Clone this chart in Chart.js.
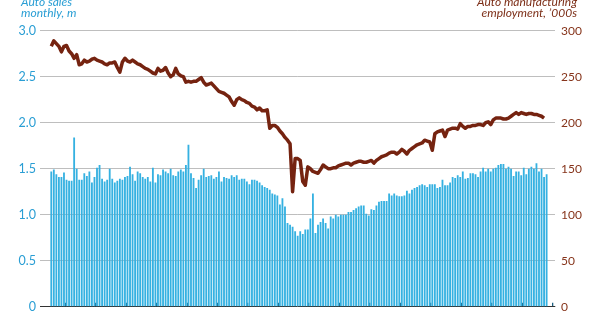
<!DOCTYPE html>
<html><head><meta charset="utf-8">
<script src="https://cdn.jsdelivr.net/npm/chart.js@4.4.1/dist/chart.umd.min.js"></script>
<style>
html,body{margin:0;padding:0;background:#fff;}
#wrap{position:relative;width:600px;height:314px;overflow:hidden;}
canvas{position:absolute;left:0;top:0;}
.t{position:absolute;font-family:Lato,sans-serif;font-style:italic;font-size:12px;line-height:11.5px;white-space:nowrap;}
#tl{left:21px;top:-4.5px;color:#2a9ed4;}
#tr{right:23px;top:-4.5px;color:#7c2e17;text-align:right;}
</style></head><body>
<div id="wrap"><canvas id="c" width="600" height="314"></canvas>
<div class="t" id="tl">Auto sales<br>monthly, m</div>
<div class="t" id="tr">Auto manufacturing<br>employment, ’000s</div>
</div>
<script>
// Monthly series starting January 2001
const startYear = 2001;
const yearTicks = [2001,2002,2003,2004,2005,2006,2007,2008,2009,2010,2011,2012,2013,2014,2015,2016,2017];
const leftTickLabels = ['0','0.5','1.0','1.5','2.0','2.5','3.0'];
const rightTickLabels = ['0','50','100','150','200','250','300'];

// Auto sales, monthly, m (bars, left axis)
const autoSales = [
1.47,1.49,1.44,1.41,1.41,1.46,1.38,1.37,1.37,1.84,
1.50,1.38,1.38,1.45,1.42,1.47,1.35,1.41,1.51,1.54,
1.39,1.36,1.38,1.50,1.39,1.35,1.37,1.39,1.38,1.41,
1.42,1.52,1.44,1.37,1.47,1.45,1.41,1.39,1.41,1.36,
1.51,1.35,1.44,1.43,1.49,1.47,1.45,1.50,1.43,
1.42,1.47,1.49,1.47,1.54,1.76,1.45,1.40,1.29,1.38,
1.43,1.50,1.41,1.42,1.43,1.39,1.41,1.47,1.36,1.41,
1.40,1.39,1.43,1.41,1.43,1.38,1.39,1.39,1.36,1.33,
1.38,1.38,1.37,1.35,1.32,1.30,1.29,1.27,1.23,1.22,
1.21,1.11,1.18,1.09,0.91,0.89,0.87,0.82,0.77,
0.82,0.79,0.84,0.84,0.96,1.23,0.80,0.89,0.92,0.96,
0.91,0.85,0.98,0.96,1.00,0.98,1.00,1.00,1.00,1.03,
1.03,1.05,1.07,1.09,1.10,1.10,1.01,0.99,1.06,1.05,
1.10,1.14,1.15,1.15,1.15,1.23,1.21,1.23,1.21,1.20,
1.20,1.21,1.26,1.23,1.27,1.29,1.30,1.32,1.33,1.32,
1.30,1.33,1.33,1.33,1.29,1.30,1.38,1.32,1.32,1.35,
1.41,1.40,1.43,1.41,1.47,1.39,1.40,1.45,1.45,1.44,
1.41,1.47,1.51,1.47,1.50,1.47,1.50,1.51,1.54,1.55,
1.55,1.50,1.52,1.50,1.42,1.47,1.47,1.43,1.51,1.44,
1.50,1.52,1.50,1.56,1.47,1.50,1.41,1.44
];

// Auto manufacturing employment, '000s (line, right axis)
const autoEmployment = [
283,289,286,283,277,283,284,278,275,270,
274,263,264,268,266,267,269,270,268,267,
266,264,263,265,265,266,260,255,266,270,
267,266,268,266,264,263,261,259,258,256,
254,253,259,256,257,260,254,250,252,259,
253,251,250,244,245,244,245,245,247,249,
244,241,242,243,240,237,234,233,232,230,
228,223,219,225,227,225,224,222,221,218,
217,214,216,213,213,214,194,197,197,195,
191,188,184,181,177,125,161,161,159,136,
132,152,150,147,146,145,149,154,152,150,
150,151,151,153,154,155,156,156,154,156,
157,158,158,157,157,158,159,156,159,161,
163,164,165,167,168,168,166,168,171,169,
166,170,172,174,176,177,178,181,180,179,
170,188,190,191,192,185,192,193,194,194,
193,199,196,194,196,196,197,197,198,198,
197,200,201,198,203,205,205,205,204,204,
205,207,209,211,209,211,210,209,210,210,
209,209,208,207,205
];

const monthNames = ['Jan','Feb','Mar','Apr','May','Jun','Jul','Aug','Sep','Oct','Nov','Dec'];
const monthLabels = autoSales.map((_, i) => monthNames[i % 12] + ' ' + (startYear + Math.floor(i / 12)));

const BLUE = '#2a9ed4';
const BROWN = '#86341b';

new Chart(document.getElementById('c'), {
  type: 'bar',
  data: {
    datasets: [
      {
        type: 'line',
        label: 'Auto manufacturing employment',
        data: autoEmployment.map((v, i) => ({x: i, y: v})),
        yAxisID: 'y1',
        xAxisID: 'x',
        borderColor: '#752310',
        borderWidth: 3.5,
        pointRadius: 0,
        tension: 0,
        borderJoinStyle: 'round',
        order: 0
      },
      {
        type: 'bar',
        label: 'Auto sales',
        data: autoSales.map((v, i) => ({x: i, y: v})),
        yAxisID: 'y',
        xAxisID: 'x',
        backgroundColor: '#35b1e1',
        borderWidth: 0,
        barPercentage: 0.72,
        categoryPercentage: 1,
        order: 1
      }
    ]
  },
  options: {
    responsive: false,
    animation: false,
    devicePixelRatio: 1,
    layout: { padding: { top: 30.7, bottom: 0, left: 0, right: 0 } },
    plugins: { legend: { display: false }, tooltip: { enabled: false } },
    scales: {
      x: {
        type: 'linear',
        position: 'bottom',
        min: -4.44,
        max: 198.3,
        offset: false,
        z: 1,
        afterBuildTicks: (s) => { s.ticks = yearTicks.map((y) => ({ value: (y - startYear) * 12 - 0.5 })); },
        afterFit: (s) => { s.height = 7.3; s.paddingLeft = 0; s.paddingRight = 0; },
        ticks: { display: false },
        grid: { display: true, drawOnChartArea: false, drawTicks: true, tickLength: -4, color: '#1d5f80', lineWidth: 1.3 },
        border: { display: true, color: '#333333', width: 1 }
      },
      y: {
        position: 'left',
        min: 0, max: 3,
        z: 1,
        afterFit: (s) => { s.width = 40; s.paddingTop = 0; s.paddingBottom = 0; },
        afterBuildTicks: (s) => { s.ticks = leftTickLabels.map((_, k) => ({ value: k * 0.5 })); },
        ticks: {
          color: BLUE,
          padding: 4,
          font: { family: 'Lato', size: 12.5 },
          callback: (v, idx) => leftTickLabels[idx]
        },
        grid: {
          drawTicks: false,
          color: (c) => (c.tick && c.tick.value === 0) ? 'rgba(0,0,0,0)' : 'rgba(110,110,110,0.45)',
          lineWidth: 1
        },
        border: { display: false }
      },
      y1: {
        position: 'right',
        min: 0, max: 300,
        afterFit: (s) => { s.width = 45; s.paddingTop = 0; s.paddingBottom = 0; },
        afterBuildTicks: (s) => { s.ticks = rightTickLabels.map((_, k) => ({ value: k * 50 })); },
        ticks: {
          color: BROWN,
          padding: 6,
          font: { family: 'Lato', size: 12 },
          callback: (v, idx) => rightTickLabels[idx]
        },
        grid: { display: false, drawTicks: false },
        border: { display: false }
      }
    }
  }
});
</script>
</body></html>
